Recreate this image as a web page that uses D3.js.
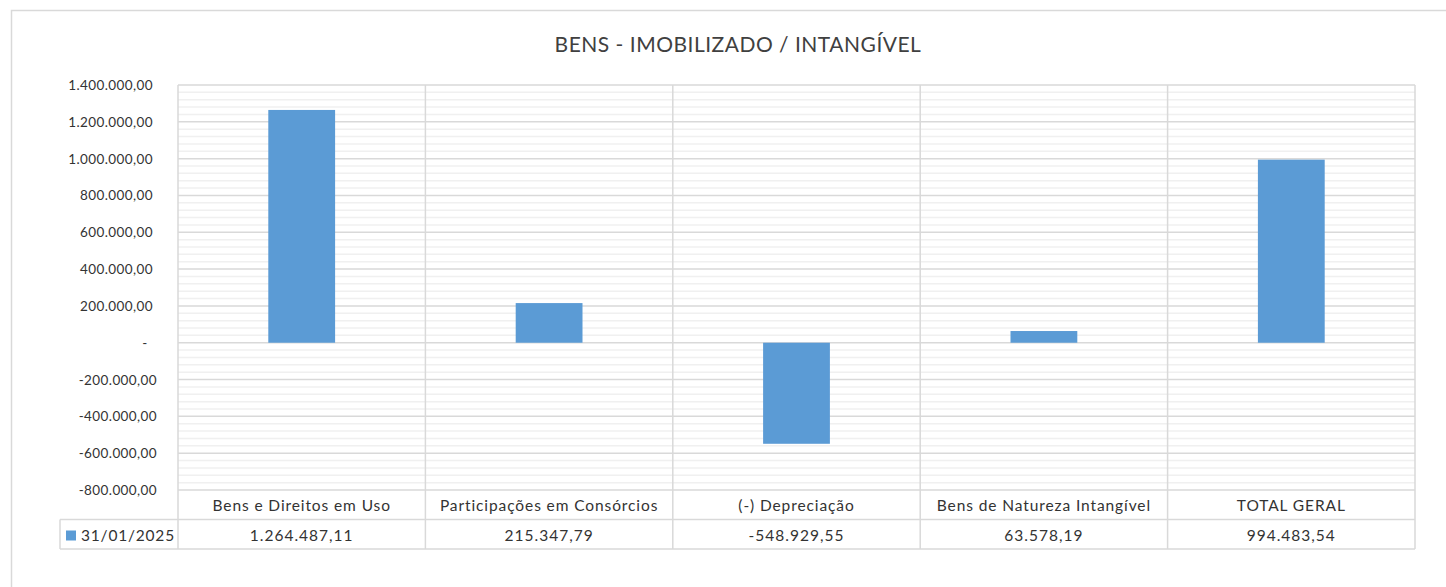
<!DOCTYPE html>
<html>
<head>
<meta charset="utf-8">
<script src="https://cdn.jsdelivr.net/npm/d3@7/dist/d3.min.js"></script>
<style>
  body { margin: 0; background: #fff; }
  svg { font-family: Lato, "Open Sans", sans-serif; }
</style>
</head>
<body>
<div id="viz"></div>
<script>
const categories = ['Bens e Direitos em Uso', 'Participações em Consórcios', '(-) Depreciação', 'Bens de Natureza Intangível', 'TOTAL GERAL'];
const values = [1264487.11, 215347.79, -548929.55, 63578.19, 994483.54];
const valueLabels = ['1.264.487,11', '215.347,79', '-548.929,55', '63.578,19', '994.483,54'];
const seriesName = '31/01/2025';
const yTicks = [1400000, 1200000, 1000000, 800000, 600000, 400000, 200000, 0, -200000, -400000, -600000, -800000];

const w = 1446, h = 587;
const plotL = 178, plotR = 1415, plotT = 85, plotB = 490;
const rowH = 29.5;

const svg = d3.select('#viz').append('svg').attr('width', w).attr('height', h);

// chart frame
svg.append('rect')
  .attr('x', 11.5).attr('y', 10.5).attr('width', 1460).attr('height', 620)
  .attr('fill', 'none').attr('stroke', '#d9d9d9').attr('stroke-width', 1.5);

svg.append('text')
  .attr('x', 738).attr('y', 52)
  .attr('text-anchor', 'middle')
  .attr('font-size', 21).attr('fill', '#404040')
  .attr('letter-spacing', 0.5)
  .text('BENS - IMOBILIZADO / INTANGÍVEL');

const y = d3.scaleLinear().domain([-800000, 1400000]).range([plotB, plotT]);
const x = d3.scaleBand().domain(categories).range([plotL, plotR]).padding(0);

// minor gridlines
const minor = d3.range(-800000, 1400001, 40000).filter(v => v % 200000 !== 0);
svg.append('g').selectAll('line').data(minor).enter().append('line')
  .attr('x1', plotL).attr('x2', plotR)
  .attr('y1', d => y(d)).attr('y2', d => y(d))
  .attr('stroke', '#f0f0f0').attr('stroke-width', 1.5);

// major gridlines
svg.append('g').selectAll('line').data(yTicks).enter().append('line')
  .attr('x1', plotL).attr('x2', plotR)
  .attr('y1', d => y(d)).attr('y2', d => y(d))
  .attr('stroke', '#d9d9d9').attr('stroke-width', 1.5);

// y axis labels
const fmt = v => {
  if (v === 0) return '-';
  const s = Math.abs(v).toString().replace(/\B(?=(\d{3})+(?!\d))/g, '.') + ',00';
  return v < 0 ? '-' + s : s;
};
svg.append('g').selectAll('text').data(yTicks).enter().append('text')
  .attr('x', d => d === 0 ? 145 : (d < 0 ? 157 : 153))
  .attr('y', d => y(d) + 5)
  .attr('text-anchor', d => d === 0 ? 'middle' : 'end')
  .attr('font-size', 13.5).attr('fill', '#333')
  .attr('letter-spacing', 0.4)
  .text(fmt);

// vertical category lines (plot + table)
const edges = categories.map(c => x(c)).concat([plotR]);
svg.append('g').selectAll('line').data(edges).enter().append('line')
  .attr('x1', d => d).attr('x2', d => d)
  .attr('y1', plotT).attr('y2', plotB + 2 * rowH)
  .attr('stroke', '#d9d9d9').attr('stroke-width', 1.5);

// bars
const bw = x.bandwidth() * 0.27;
svg.append('g').selectAll('rect').data(values).enter().append('rect')
  .attr('x', (d, i) => x(categories[i]) + x.bandwidth() / 2 - bw / 2)
  .attr('y', d => y(Math.max(0, d)))
  .attr('width', bw)
  .attr('height', d => Math.abs(y(d) - y(0)))
  .attr('fill', '#5b9bd5');

// data table
const tbl = svg.append('g');
tbl.append('line').attr('x1', 60).attr('x2', plotR).attr('y1', plotB + rowH).attr('y2', plotB + rowH)
  .attr('stroke', '#d9d9d9').attr('stroke-width', 1.5);
tbl.append('line').attr('x1', 60).attr('x2', plotR).attr('y1', plotB + 2 * rowH).attr('y2', plotB + 2 * rowH)
  .attr('stroke', '#d9d9d9').attr('stroke-width', 1.5);
tbl.append('line').attr('x1', 60).attr('x2', 60).attr('y1', plotB + rowH).attr('y2', plotB + 2 * rowH)
  .attr('stroke', '#d9d9d9').attr('stroke-width', 1.5);

tbl.selectAll('text.cat').data(categories).enter().append('text')
  .attr('class', 'cat')
  .attr('x', d => x(d) + x.bandwidth() / 2)
  .attr('y', plotB + 21)
  .attr('text-anchor', 'middle').attr('font-size', 15.5).attr('fill', '#333')
  .attr('letter-spacing', 0.9)
  .text(d => d);

tbl.selectAll('text.val').data(valueLabels).enter().append('text')
  .attr('class', 'val')
  .attr('x', (d, i) => x(categories[i]) + x.bandwidth() / 2)
  .attr('y', plotB + rowH + 21)
  .attr('text-anchor', 'middle').attr('font-size', 15.5).attr('fill', '#333')
  .attr('letter-spacing', 1)
  .text(d => d);

tbl.append('rect').attr('x', 66).attr('y', plotB + rowH + 11).attr('width', 10).attr('height', 10).attr('fill', '#5b9bd5');
tbl.append('text').attr('x', 81).attr('y', plotB + rowH + 21)
  .attr('font-size', 15.5).attr('fill', '#333').attr('letter-spacing', 0.8).text(seriesName);
</script>
</body>
</html>
